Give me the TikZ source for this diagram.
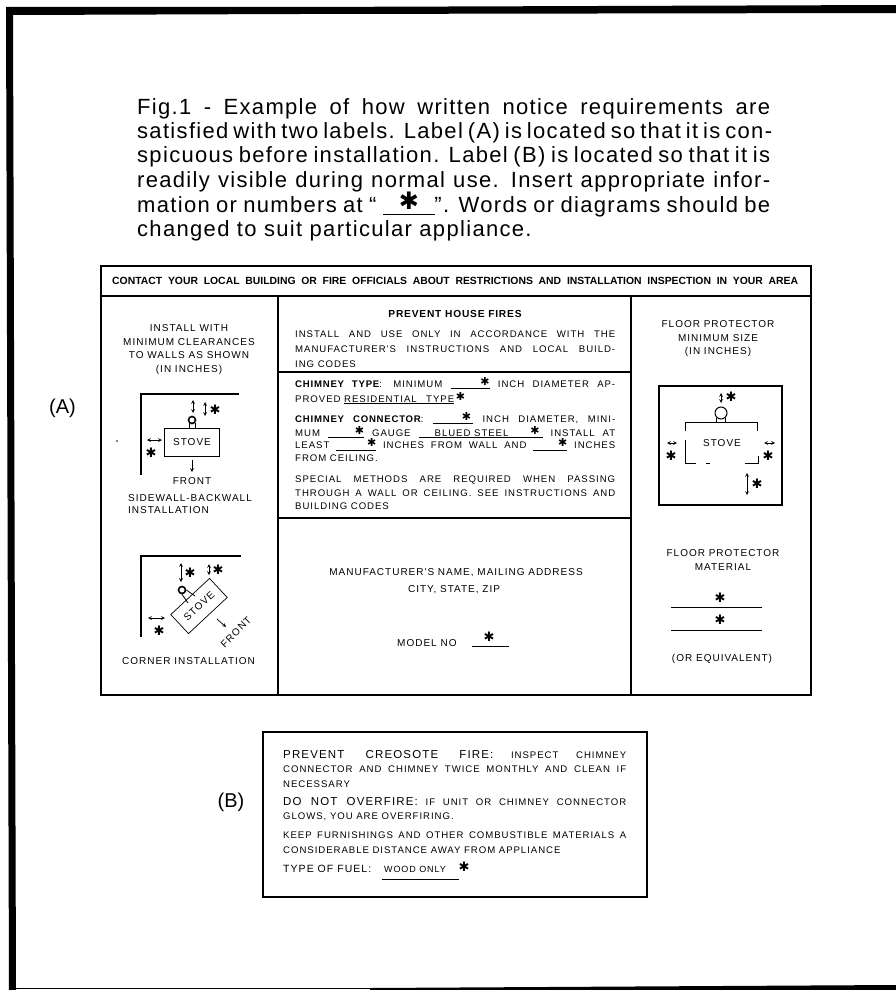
\documentclass[tikz,border=0pt]{standalone}
\usepackage{fontspec}
\setmainfont{Liberation Sans}
\newfontfamily\starfont{DejaVu Sans}
\newfontfamily\capsfont[LetterSpace=10]{Liberation Sans}
\newfontfamily\boldcaps[LetterSpace=8]{Liberation Sans}
\newfontfamily\notefont[LetterSpace=6]{Liberation Sans}
\newcommand{\fullline}[2]{\makebox[#1pt][s]{#2}}
\newcommand{\mystar}{{\starfont\fontsize{11}{11}\selectfont\raisebox{2pt}{✱}}}
\newcommand{\fillin}[2]{\underline{\makebox[#1pt][r]{#2}}}
\newcommand{\boldlead}[1]{{\boldcaps\bfseries #1}}
\tikzset{
  txtline/.style={anchor=base west, inner sep=0pt, font=\capsfont\fontsize{9.6}{11}\selectfont},
  sideline/.style={anchor=base west, inner sep=0pt, font=\capsfont\fontsize{10}{11}\selectfont},
  txtmid/.style={anchor=base, inner sep=0pt, font=\capsfont\fontsize{10}{11}\selectfont},
  noteline/.style={anchor=base west, inner sep=0pt, font=\notefont\fontsize{22}{24}\selectfont},
  starmark/.style={inner sep=0pt, font=\starfont\fontsize{13}{13}\selectfont},
  stovebox/.style={draw, line width=.7pt, inner sep=0pt, font=\capsfont\fontsize{10}{11}\selectfont},
  dimarrow/.style={<->, >=stealth, line width=.7pt},
  wall/.style={line width=2.2pt},
  rule/.style={line width=1.3pt},
}
\begin{document}
\begin{tikzpicture}[x=1pt, y=-1pt]
\useasboundingbox (0,0) rectangle (896,990);
% page frame
\fill (6,7) -- (300,7) -- (896,5) -- (896,13) -- (300,14) -- (13,15) -- (16,988) -- (16,990) -- (9,990) -- cycle;
\draw[line width=1pt] (16,988.5) -- (370,988.5);
\fill (370,988) -- (896,985) -- (896,990) -- (370,990) -- cycle;

% note
\node[noteline] (note1) at (137,114) {\fullline{633}{Fig.1 - Example of how written notice requirements are}};
\node[noteline] (note2) at (137,138) {\fullline{633}{satisfied with two labels. Label (A) is located so that it is con-}};
\node[noteline] (note3) at (137,162.5) {\fullline{633}{spicuous before installation. Label (B) is located so that it is}};
\node[noteline] (note4) at (137,187) {\fullline{633}{readily visible during normal use. Insert appropriate infor-}};
\node[noteline] (note5) at (137,212) {\fullline{633}{mation or numbers at “\hspace{58pt}”. Words or diagrams should be}};
\node[noteline] (note6) at (137,236) {changed to suit particular appliance.};
\draw[line width=1pt] (383,214) -- (435,214);
\node[starmark, font=\starfont\fontsize{24}{24}\selectfont] (notestar) at (409,201) {✱};

\node[font=\fontsize{20}{22}\selectfont, inner sep=0pt] (labelA) at (62.5,408) {(A)};
\node[font=\fontsize{20}{22}\selectfont, inner sep=0pt] (labelB) at (231,802) {(B)};
\fill (117,441) circle (.9);

% label A
\draw[rule] (101,266) rectangle (811,695);
\draw[rule] (101,296) -- (811,296);
\draw[rule] (278,296) -- (278,695);
\draw[rule] (631,296) -- (631,695);
\draw[rule] (278,372) -- (631,372);
\draw[rule] (278,518) -- (631,518);
\node[anchor=base west, inner sep=0pt, font=\bfseries\fontsize{10.4}{12}\selectfont] (head) at (112,284) {\fullline{686}{CONTACT YOUR LOCAL BUILDING OR FIRE OFFICIALS ABOUT RESTRICTIONS AND INSTALLATION INSPECTION IN YOUR AREA}};

% left column
\node[txtmid] (inst1) at (189,331) {INSTALL WITH};
\node[txtmid] (inst2) at (189,345) {MINIMUM CLEARANCES};
\node[txtmid] (inst3) at (189,358) {TO WALLS AS SHOWN};
\node[txtmid] (inst4) at (189,372) {(IN INCHES)};

\draw[wall] (141,475) -- (141,394) -- (239,394);
\node[stovebox, minimum width=55pt, minimum height=28pt] (stoveA) at (192,442) {STOVE};
\node[draw, circle, line width=1.6pt, minimum size=7pt, inner sep=0pt] (flueA) at (192,420) {};
\draw[line width=.8pt] (flueA.south west) -- (stoveA.north -| flueA.south west);
\draw[line width=.8pt] (flueA.south east) -- (stoveA.north -| flueA.south east);
\draw[dimarrow] (193,400) -- (193,413);
\draw[dimarrow] (205,402) -- (205,416);
\node[starmark] (starA1) at (215,410) {✱};
\draw[dimarrow] (147,440) -- (162,440);
\node[starmark] (starA2) at (151,453) {✱};
\coordinate (frontA) at (192,472);
\draw[->, >=stealth, line width=.7pt] (stoveA.south -| frontA) ++(0,4) -- (frontA);
\node[txtmid] (frontAtxt) at (192,484) {FRONT};
\node[sideline] (side1) at (128,501) {SIDEWALL-BACKWALL};
\node[sideline] (side2) at (128,513) {INSTALLATION};

\draw[wall] (141,637) -- (141,556) -- (241,556);
\node[stovebox, rotate=43, minimum width=53pt, minimum height=26pt] (stoveB) at (199,606) {STOVE};
\node[draw, circle, line width=1.6pt, minimum size=7pt, inner sep=0pt] (flueB) at (182,590) {};
\draw[line width=.8pt] (flueB.south) -- (188,603);
\draw[line width=.8pt] (flueB.east) -- (195,596);
\draw[dimarrow] (181,563) -- (181,582);
\node[starmark] (starB1) at (190,573) {✱};
\draw[dimarrow] (209,564) -- (209,575);
\node[starmark] (starB2) at (218,570) {✱};
\draw[dimarrow] (148,618) -- (165,618);
\node[starmark] (starB3) at (159,631) {✱};
\draw[->, >=stealth, line width=.7pt] (217,619) -- (226,627);
\node[txtmid, rotate=45, anchor=center] (frontBtxt) at (236,632) {FRONT};
\node[sideline] (corner) at (122,664) {CORNER INSTALLATION};

% middle column
\node[anchor=base, inner sep=0pt, font=\boldcaps\bfseries\fontsize{10.2}{12}\selectfont] (prevent) at (455,317) {PREVENT HOUSE FIRES};
\node[txtline] (use1) at (295,337) {\fullline{320}{INSTALL AND USE ONLY IN ACCORDANCE WITH THE}};
\node[txtline] (use2) at (295,352) {\fullline{320}{MANUFACTURER'S INSTRUCTIONS AND LOCAL BUILD-}};
\node[txtline] (use3) at (295,367) {ING CODES};

\node[txtline] (chim1) at (295,387) {\fullline{320}{\boldlead{CHIMNEY TYPE}:\hspace{3pt} MINIMUM \fillin{39}{\mystar} INCH DIAMETER AP-}};
\node[txtline] (chim2) at (295,402) {PROVED \underline{\makebox[110pt][s]{RESIDENTIAL TYPE}}\,\mystar};
\node[txtline] (conn1) at (295,422) {\fullline{320}{\boldlead{CHIMNEY CONNECTOR}: \fillin{40}{\mystar\hspace{2pt}} INCH DIAMETER, MINI-}};
\node[txtline] (conn2) at (295,436) {\fullline{320}{MUM \fillin{36}{\mystar} GAUGE \fillin{124}{BLUED STEEL\hspace{22pt}\mystar\hspace{3pt}} INSTALL AT}};
\node[txtline] (conn3) at (295,448.5) {\fullline{320}{LEAST \fillin{40}{\mystar} INCHES FROM WALL AND \fillin{34}{\mystar} INCHES}};
\node[txtline] (conn4) at (295,461) {FROM CEILING.};
\node[txtline] (spec1) at (295,482) {\fullline{320}{SPECIAL METHODS ARE REQUIRED WHEN PASSING}};
\node[txtline] (spec2) at (295,496) {\fullline{320}{THROUGH A WALL OR CEILING. SEE INSTRUCTIONS AND}};
\node[txtline] (spec3) at (295,509) {BUILDING CODES};

\node[txtmid] (maker1) at (456,575) {MANUFACTURER'S NAME, MAILING ADDRESS};
\node[txtmid] (maker2) at (454,592) {CITY, STATE, ZIP};
\node[sideline] (model) at (397,646) {MODEL NO};
\draw[line width=.8pt] (472,646) -- (509,646);
\node[starmark] (starM) at (489,637) {✱};

% right column
\node[txtmid] (size1) at (718,327) {FLOOR PROTECTOR};
\node[txtmid] (size2) at (718,341) {MINIMUM SIZE};
\node[txtmid] (size3) at (718,354) {(IN INCHES)};
\draw[wall] (659,386) rectangle (782,505);
\draw[dimarrow] (721,393) -- (721,403);
\node[starmark] (starF1) at (731,397) {✱};
\node[draw, circle, line width=1pt, minimum size=12pt, inner sep=0pt] (flueF) at (721,413) {};
\draw[line width=.8pt] (flueF.south west) -- (flueF.south west |- 0,422);
\draw[line width=.8pt] (flueF.south east) -- (flueF.south east |- 0,422);
\draw[line width=.6pt] (685,431) -- (685,422) -- (757,422) -- (757,431);
\draw[line width=.6pt] (685,440) -- (685,463) -- (696,463);
\draw[line width=.6pt] (706,463) -- (710,463);
\draw[line width=.6pt] (745,463) -- (758,463) -- (758,456);
\node[inner sep=0pt, font=\capsfont\fontsize{10}{11}\selectfont] (stoveF) at (722,443) {STOVE};
\draw[dimarrow] (667,443) -- (677,443);
\node[starmark] (starF2) at (671,456) {✱};
\draw[dimarrow] (764,443) -- (775,443);
\node[starmark] (starF3) at (768,456) {✱};
\draw[dimarrow] (747,473) -- (747,495);
\node[starmark] (starF4) at (757,484) {✱};

\node[txtmid] (mat1) at (723,556) {FLOOR PROTECTOR};
\node[txtmid] (mat2) at (723,570) {MATERIAL};
\draw[line width=.9pt] (671,607) -- (762,607);
\draw[line width=.9pt] (671,630) -- (762,630);
\node[starmark] (starF5) at (720,598) {✱};
\node[starmark] (starF6) at (720,620) {✱};
\node[txtmid] (equiv) at (722,661) {(OR EQUIVALENT)};

% label B
\draw[wall] (263,732) rectangle (647,897);
\node[txtline] (creo1) at (283,758) {\fullline{343}{{\fontsize{11.5}{13}\selectfont PREVENT CREOSOTE FIRE:} INSPECT CHIMNEY}};
\node[txtline] (creo2) at (283,772) {\fullline{343}{CONNECTOR AND CHIMNEY TWICE MONTHLY AND CLEAN IF}};
\node[txtline] (creo3) at (283,787) {NECESSARY};
\node[txtline] (over1) at (283,805) {\fullline{343}{{\fontsize{11.5}{13}\selectfont DO NOT OVERFIRE:} IF UNIT OR CHIMNEY CONNECTOR}};
\node[txtline] (over2) at (283,819) {GLOWS, YOU ARE OVERFIRING.};
\node[txtline] (keep1) at (283,838) {\fullline{343}{KEEP FURNISHINGS AND OTHER COMBUSTIBLE MATERIALS A}};
\node[txtline] (keep2) at (283,853) {CONSIDERABLE DISTANCE AWAY FROM APPLIANCE};
\node[txtline, font=\capsfont\fontsize{10.5}{12}\selectfont] (fuel) at (283,872) {TYPE OF FUEL:};
\node[txtline, font=\capsfont\fontsize{9}{11}\selectfont] (wood) at (384,872) {WOOD ONLY};
\draw[line width=.8pt] (382,879) -- (459,879);
\node[starmark] (starW) at (464,867) {✱};
\end{tikzpicture}
\end{document}
